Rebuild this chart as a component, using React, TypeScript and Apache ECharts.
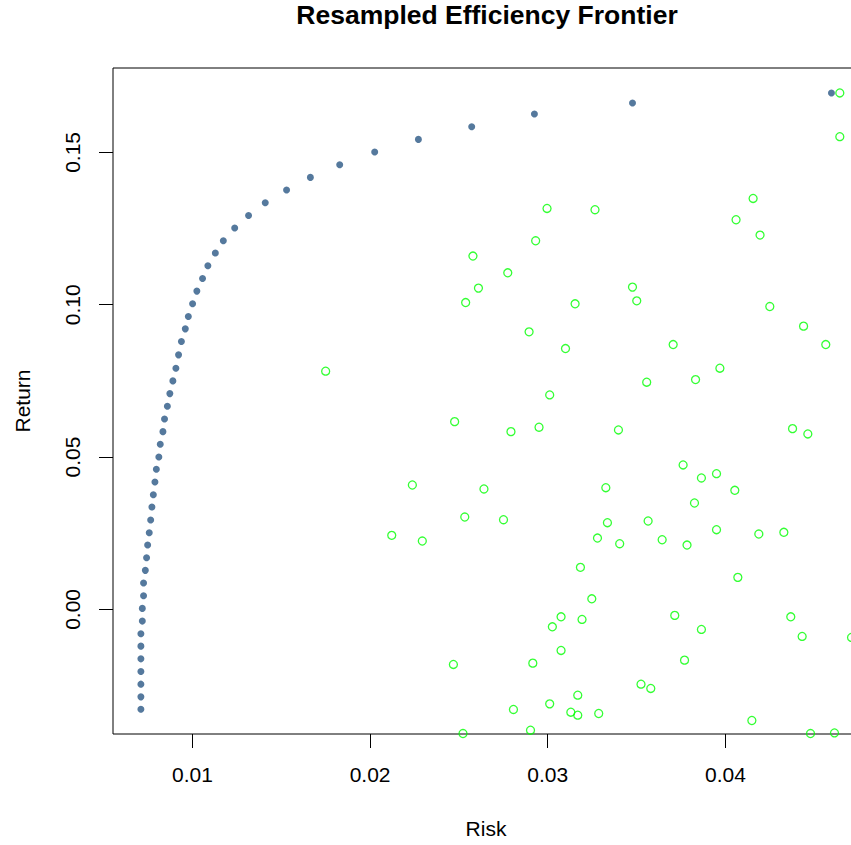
import React, { useEffect, useRef } from "react";
import * as echarts from "echarts";

const chartTitle = "Resampled Efficiency Frontier";
const xName = "Risk";
const yName = "Return";

const xTicks = [0.01, 0.02, 0.03, 0.04];
const yTicks = [0.0, 0.05, 0.1, 0.15];

const frontierRisk = [
  0.0071, 0.0071, 0.0071, 0.0071, 0.0071, 0.0071, 0.0071, 0.00718, 0.00718, 0.00725,
  0.00725, 0.00735, 0.00742, 0.00748, 0.00757, 0.00765, 0.00772, 0.0078, 0.00789, 0.00797,
  0.00811, 0.00819, 0.00834, 0.00843, 0.00859, 0.00873, 0.0089, 0.00907, 0.00922, 0.00938,
  0.0096, 0.00977, 0.01001, 0.01025, 0.01057, 0.01087, 0.01129, 0.01174, 0.01238, 0.01316,
  0.0141, 0.0153, 0.01664, 0.01829, 0.02026, 0.02272, 0.02572, 0.02925, 0.03477, 0.04597,
];
const frontierReturn = [
  -0.03275, -0.02871, -0.02454, -0.02037, -0.01623, -0.01206, -0.00802, -0.00384, 0.00033, 0.00447,
  0.00864, 0.01281, 0.01695, 0.02112, 0.02516, 0.02934, 0.03361, 0.03765, 0.04182, 0.04599,
  0.05003, 0.0542, 0.05834, 0.06252, 0.06669, 0.07083, 0.075, 0.07917, 0.08354, 0.08791,
  0.09208, 0.09612, 0.1003, 0.10447, 0.10861, 0.11278, 0.11695, 0.12099, 0.12516, 0.1293,
  0.13348, 0.13765, 0.14179, 0.14596, 0.15013, 0.15427, 0.15844, 0.16261, 0.16623, 0.16951,
];

const sampleRisk = [
  0.0175, 0.02122, 0.02996, 0.03266, 0.02932, 0.02579, 0.02775, 0.0261, 0.02538, 0.03154,
  0.02895, 0.031, 0.03011, 0.04644, 0.04644, 0.04156, 0.0406, 0.04195, 0.03477, 0.03501,
  0.0425, 0.0444, 0.04565, 0.03706, 0.03969, 0.03832, 0.03557, 0.02476, 0.02793, 0.02951,
  0.03398, 0.02238, 0.02641, 0.03327, 0.02533, 0.02751, 0.03336, 0.02294, 0.0328, 0.03405,
  0.03184, 0.03248, 0.03075, 0.03193, 0.03026, 0.03075, 0.02469, 0.02916, 0.03169, 0.03011,
  0.02807, 0.0313, 0.03169, 0.03287, 0.02523, 0.02903, 0.04378, 0.04464, 0.03762, 0.03865,
  0.0395, 0.04053, 0.03826, 0.03565, 0.0395, 0.03644, 0.03784, 0.04188, 0.04329, 0.0407,
  0.03715, 0.03865, 0.04368, 0.04432, 0.0471, 0.0377, 0.03525, 0.0358, 0.04149, 0.04479,
  0.04614,
];
const sampleReturn = [
  0.07819, 0.02431, 0.1316, 0.13118, 0.12099, 0.11597, 0.11048, 0.10545, 0.10072, 0.1003,
  0.0911, 0.08561, 0.0704, 0.16951, 0.15516, 0.13489, 0.12789, 0.12286, 0.10578, 0.10128,
  0.09941, 0.09297, 0.08693, 0.08693, 0.07917, 0.07543, 0.07457, 0.06163, 0.05834, 0.05979,
  0.0589, 0.04083, 0.03952, 0.03995, 0.03032, 0.02943, 0.02845, 0.02244, 0.02342, 0.02155,
  0.0138, 0.00348, -0.00243, -0.00329, -0.00572, -0.01347, -0.01807, -0.01764, -0.02815, -0.03101,
  -0.03285, -0.03374, -0.03472, -0.03417, -0.04074, -0.03965, 0.05933, 0.05759, 0.04741, 0.04313,
  0.04455, 0.03909, 0.03492, 0.02901, 0.02615, 0.02286, 0.02112, 0.02474, 0.0253, 0.01051,
  -0.00197, -0.00657, -0.00243, -0.00887, -0.0092, -0.01666, -0.02454, -0.02595, -0.03647, -0.04074,
  -0.04054,
];

const FONT = "'Liberation Sans', Arial, sans-serif";

export default function App() {
  const ref = useRef<HTMLDivElement>(null);

  useEffect(() => {
    if (!ref.current) return;
    const chart = echarts.init(ref.current, undefined, { renderer: "svg" });
    const frontier = frontierRisk.map((r, i) => [r, frontierReturn[i]]);
    const samples = sampleRisk.map((r, i) => [r, sampleReturn[i]]);

    chart.setOption({
      animation: false,
      backgroundColor: "#ffffff",
      textStyle: { fontFamily: FONT },
      graphic: [
        {
          type: "text",
          x: 487,
          y: 15,
          style: {
            text: chartTitle,
            align: "center",
            verticalAlign: "middle",
            fontFamily: FONT,
            fontSize: 26.5,
            fontWeight: "bold",
            fill: "#000000",
          },
        },
      ],
      grid: {
        left: 113,
        top: 68,
        width: 746,
        height: 666,
        show: true,
        borderColor: "#000000",
        borderWidth: 1,
        backgroundColor: "transparent",
      },
      xAxis: {
        type: "value",
        min: 0.00553,
        max: 0.04752,
        name: xName,
        nameLocation: "middle",
        nameGap: 84,
        nameTextStyle: { fontFamily: FONT, fontSize: 21, color: "#000000" },
        axisLine: { show: false, onZero: false },
        splitLine: { show: false },
        axisTick: {
          show: true,
          length: 14,
          customValues: xTicks,
          lineStyle: { color: "#000000", width: 1 },
        },
        axisLabel: {
          customValues: xTicks,
          margin: 30,
          fontFamily: FONT,
          fontSize: 21,
          color: "#000000",
          formatter: (v: number) => v.toFixed(2),
        },
      },
      yAxis: {
        type: "value",
        min: -0.0409,
        max: 0.1777,
        name: yName,
        nameLocation: "middle",
        nameGap: 80,
        nameTextStyle: { fontFamily: FONT, fontSize: 21, color: "#000000" },
        axisLine: { show: false, onZero: false },
        splitLine: { show: false },
        axisTick: {
          show: true,
          length: 14,
          customValues: yTicks,
          lineStyle: { color: "#000000", width: 1 },
        },
        axisLabel: {
          customValues: yTicks,
          rotate: 90,
          margin: 30,
          fontFamily: FONT,
          fontSize: 21,
          color: "#000000",
          formatter: (v: number) => v.toFixed(2),
        },
      },
      series: [
        {
          name: "Frontier",
          type: "scatter",
          data: frontier,
          symbol: "circle",
          symbolSize: 7,
          itemStyle: { color: "#2B5784" },
          clip: true,
        },
        {
          name: "Resampled",
          type: "scatter",
          data: samples,
          symbol: "circle",
          symbolSize: 8,
          itemStyle: {
            color: "rgba(0,0,0,0)",
            borderColor: "#00FF00",
            borderWidth: 1.3,
          },
          clip: true,
        },
      ],
    });

    return () => chart.dispose();
  }, []);

  return (
    <div
      style={{
        position: "absolute",
        left: 0,
        top: 0,
        width: 851,
        height: 845,
        overflow: "hidden",
      }}
    >
      <div ref={ref} style={{ width: 880, height: 845 }} />
    </div>
  );
}
